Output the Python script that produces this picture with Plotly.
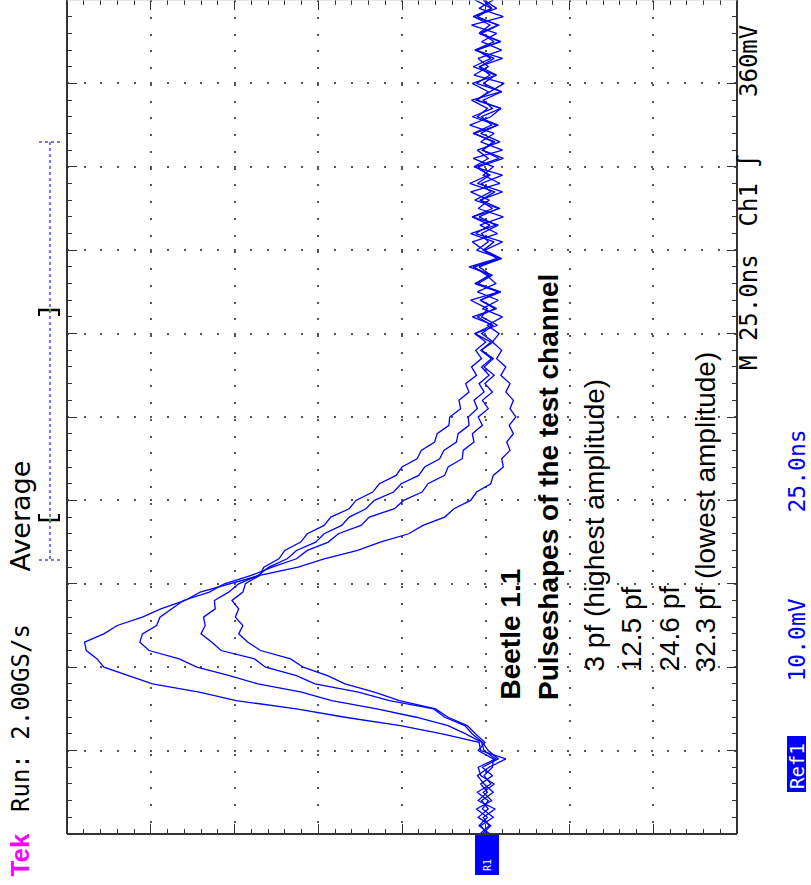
import plotly.graph_objects as go

# ---------------- data (read from the screen capture) ----------------
# time base of the stored reference waveforms: 0 .. 250 ns (25 ns/div, 10 div)
t_ns = [2.5 * k for k in range(101)]

# amplitude in mV relative to the reference baseline (10 mV/div)
pf3 = [0.4, -0.6, 0.9, -0.3, 0.5, -0.9, 0.2, 1.0, -0.4, -2.4,
       0.6, 0.8, 5.2, 10.2, 16.8, 22.6, 29.8, 34.2, 39.8, 42.7,
       45.6, 46.4, 47.7, 47.9, 45.6, 44.0, 41.0, 38.8, 35.9, 34.1,
       30.6, 27.0, 22.4, 19.3, 15.3, 12.6, 9.2, 7.5, 4.9, 3.8,
       1.8, 1.1, -0.6, -0.9, -2.1, -1.9, -2.9, -2.5, -3.3, -2.8,
       -3.6, -2.9, -3.3, -2.4, -2.9, -1.8, -2.4, -1.3, -1.9, -0.8,
       -1.6, -0.2, -2.0, 0.4, -1.5, 1.0, -1.2, -0.1, 1.4, -1.9,
       0.2, 1.6, -1.4, 0.7, -2.1, 0.9, -0.4, 1.8, -1.7, 0.3,
       -0.9, 1.5, -2.0, 0.6, -1.0, 1.9, -0.6, -1.8, 1.2, -0.5,
       -2.2, 1.4, -0.3, 0.9, -1.9, 0.5, -1.3, 1.7, -2.1, 0.8, -0.9]

pf12_5 = [-0.5, 0.8, -0.2, 1.1, -0.7, 0.3, -1.0, 0.6, 0.9, -1.2,
          0.2, 0.5, 2.4, 4.5, 8.3, 13.0, 18.4, 22.0, 27.2, 30.6,
          34.5, 36.6, 40.2, 41.3, 41.0, 39.3, 38.9, 37.5, 36.1, 33.0,
          31.2, 28.0, 25.5, 22.6, 21.3, 18.8, 17.6, 14.9, 13.9, 10.9,
          9.8, 7.6, 6.9, 4.9, 4.5, 2.8, 2.7, 1.4, 1.6, 0.4,
          0.9, -0.3, 0.4, -0.8, 0.1, -1.0, 0.2, -0.9, 0.5, -0.6,
          1.3, -1.4, 0.5, -0.2, 1.8, -1.6, 0.9, -0.8, 2.0, -1.3,
          0.1, -2.0, 1.2, -0.5, 1.6, -1.7, 0.6, -1.1, 1.9, -0.3,
          0.9, -2.1, 0.4, -0.9, 1.4, -1.5, 1.0, -0.2, 1.7, -1.9,
          0.3, -1.2, 1.5, -0.6, 1.1, -1.8, 0.7, -1.4, 1.0, -0.7, 1.3]

pf24_6 = [0.7, -0.4, 0.3, -1.1, 0.9, -0.2, 0.6, -0.8, 0.4, -1.5,
          -0.3, 0.4, 1.6, 2.5, 4.9, 6.2, 11.5, 15.2, 20.4, 22.6,
          26.3, 27.6, 31.6, 32.7, 34.0, 33.5, 33.7, 32.3, 32.4, 30.7,
          29.5, 27.2, 25.9, 23.7, 22.6, 20.3, 19.3, 17.2, 16.3, 14.3,
          13.3, 11.0, 10.1, 8.0, 7.3, 5.5, 5.0, 3.5, 3.3, 2.0,
          2.1, 1.0, 1.4, 0.2, 0.8, -0.4, 0.5, -0.7, 0.6, -0.9,
          0.5, -0.9, 1.6, -1.3, 0.6, -1.8, 1.2, -0.4, 1.5, -1.6,
          0.3, -1.0, 1.8, -1.2, 0.8, -1.5, 1.3, -0.6, 0.5, -2.0,
          1.4, -0.3, 1.0, -1.7, 0.6, -1.3, 1.6, -0.8, 0.3, -1.9,
          1.1, -0.5, 0.8, -2.0, 1.3, -1.0, 0.5, -1.6, 1.5, -0.7, 0.3]

pf32_3 = [-0.2, 0.6, -0.9, 0.4, -0.3, 1.0, -0.6, 0.2, -0.8, -0.9,
          0.9, 0.1, 1.2, 2.2, 4.5, 6.0, 10.3, 13.3, 16.8, 18.9,
          21.8, 23.3, 26.9, 28.4, 29.5, 29.0, 29.9, 29.5, 30.3, 29.0,
          28.7, 27.0, 26.5, 24.7, 24.0, 22.1, 21.3, 19.3, 18.5, 16.3,
          15.5, 13.5, 12.7, 10.7, 10.0, 8.2, 7.7, 6.1, 5.8, 4.4,
          4.3, 3.0, 3.2, 2.0, 2.4, 1.1, 1.7, 0.5, 1.2, 0.0,
          1.3, -0.7, 1.0, -1.1, 0.7, -1.5, 1.3, -0.6, 0.8, -1.8,
          1.1, -0.3, 0.5, -1.5, 1.6, -0.8, 0.7, -2.0, 1.0, -0.5,
          1.3, -1.6, 0.4, -1.1, 1.5, -0.7, 0.5, -1.8, 1.0, -0.3,
          1.6, -1.3, 0.7, -1.0, 1.2, -1.7, 0.8, -0.5, 1.4, -1.3, 0.2]

series = [("3 pf", pf3), ("12.5 pf", pf12_5), ("24.6 pf", pf24_6), ("32.3 pf", pf32_3)]

title_lines = ["Beetle 1.1", "Pulseshapes of the test channel"]
legend_lines = ["3 pf (highest amplitude)", "12.5 pf", "24.6 pf", "32.3 pf (lowest amplitude)"]

# ---------------- layout helpers (pixel -> paper) ----------------
W, H = 811, 885
L, R, T, B = 67, 737, 0, 834


def px(sx):
    return (sx - L) / (R - L)


def py(sy):
    return (B - sy) / (B - T)


fig = go.Figure()
for name, vals in series:
    fig.add_trace(go.Scatter(x=vals, y=t_ns, mode="lines", name=name,
                             line=dict(color="#0000ff", width=1.3),
                             hoverinfo="skip"))

axis_common = dict(showticklabels=False, zeroline=False, showline=False,
                   showgrid=True, gridcolor="#555555", gridwidth=2,
                   ticks="inside", ticklen=10, tickwidth=1, tickcolor="#333333",
                   mirror="allticks", fixedrange=True)

fig.update_layout(
    width=W, height=H,
    margin=dict(l=L, r=W - R, t=T, b=H - B),
    paper_bgcolor="white", plot_bgcolor="white",
    showlegend=False,
    xaxis=dict(range=[50, -30], tick0=0, dtick=10, griddash="2px,14.75px",
               minor=dict(dtick=2, ticks="inside", ticklen=5, tickwidth=1,
                          tickcolor="#333333", showgrid=False),
               **axis_common),
    yaxis=dict(range=[0, 250], tick0=0, dtick=25, griddash="2px,14.68px",
               minor=dict(dtick=5, ticks="inside", ticklen=5, tickwidth=1,
                          tickcolor="#333333", showgrid=False),
               **axis_common),
)


def seg(x0, y0, x1, y1, color, width, dash=None):
    ln = dict(color=color, width=width)
    if dash:
        ln["dash"] = dash
    return dict(type="line", xref="paper", yref="paper",
                x0=px(x0), x1=px(x1), y0=py(y0), y1=py(y1), line=ln)


shapes = []
# screen frame
shapes.append(seg(L, 0, L, B, "#333333", 2))
shapes.append(seg(R, 0, R, B, "#333333", 2))
shapes.append(seg(L, B, R, B, "#333333", 2))
shapes.append(seg(L, 0, R, 0, "#cccccc", 1))
# record view bar
bar_col = "#4a4aff"
shapes.append(seg(50, 142, 50, 560, bar_col, 1.5, "dot"))
for yy in (142, 560):
    shapes.append(seg(39, yy, 61, yy, bar_col, 1.5, "dot"))
# brackets of the displayed part of the record
shapes.append(seg(38, 310, 60, 310, "black", 2.5))
shapes.append(seg(39, 310, 39, 316, "black", 2))
shapes.append(seg(59, 310, 59, 316, "black", 2))
shapes.append(seg(38, 520, 60, 520, "black", 2.5))
shapes.append(seg(39, 520, 39, 514, "black", 2))
shapes.append(seg(59, 520, 59, 514, "black", 2))
for yy in (310, 520):
    shapes.append(dict(type="rect", xref="paper", yref="paper", x0=px(49), x1=px(51),
                       y0=py(yy + 1), y1=py(yy - 1), fillcolor="#00c000", line=dict(width=0)))
# ground / reference marker
shapes.append(dict(type="rect", xref="paper", yref="paper", x0=px(475), x1=px(499),
                   y0=py(875), y1=py(835), fillcolor="#0000ff", line=dict(width=0)))
# Ref1 label box
shapes.append(dict(type="rect", xref="paper", yref="paper", x0=px(787), x1=px(806),
                   y0=py(792), y1=py(736), fillcolor="#0000ff", line=dict(width=0)))
fig.update_layout(shapes=shapes)

MONO = "DejaVu Sans Mono"
SANS = "Liberation Sans"
ann = []


def rot(text, cx, ybot, size, color="black", family=MONO, xanchor="center"):
    ann.append(dict(text=text, x=px(cx), y=py(ybot), xref="paper", yref="paper",
                    xanchor=xanchor, yanchor="bottom", textangle=-90, showarrow=False,
                    font=dict(family=family, size=size, color=color), borderpad=0))


rot("<b>Tek</b>", 20, 878, 26, color="#ff00ff", family=SANS)
rot("Run: 2.00GS/s", 21, 813, 24)
rot("Average", 20, 573, 27, family="DejaVu Sans")
rot("M 25.0ns", 749, 371, 24)
rot("Ch1", 749, 228, 24)
rot("\u222b", 749, 169, 24)
rot("360mV", 749, 98, 24)
rot("25.0ns", 810, 514, 23, color="#0000ff", xanchor="right")
rot("10.0mV", 810, 683, 23, color="#0000ff", xanchor="right")
rot("Ref1", 797, 790, 19, color="white")
rot("R1", 487, 872, 10, color="white")

rot("<b>" + title_lines[0] + "</b>", 510, 701, 28, family=SANS)
rot("<b>" + title_lines[1] + "</b>", 548, 701, 28, family=SANS)
for i, line in enumerate(legend_lines):
    rot(line, 594 + 37.3 * i, 673, 28, family=SANS)

fig.update_layout(annotations=ann)
fig.write_html("out.html")
